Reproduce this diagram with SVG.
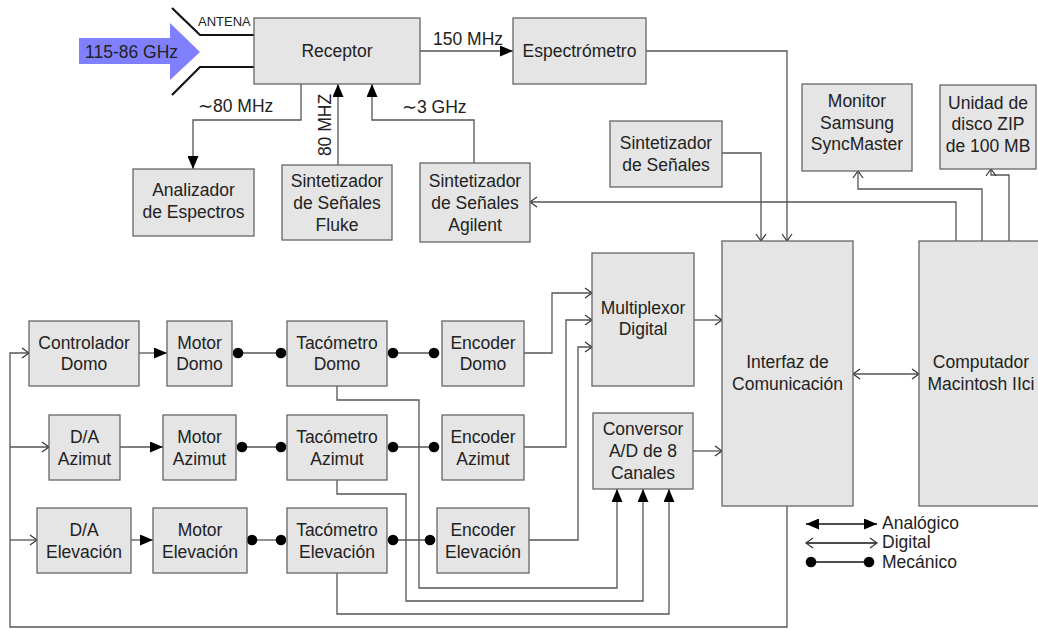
<svg xmlns="http://www.w3.org/2000/svg" width="1038" height="629" viewBox="0 0 1038 629">
<style>
.box{fill:#e5e5e5;stroke:#666;stroke-width:1.3}
.t{font-family:"Liberation Sans",Arial,Helvetica,sans-serif;font-size:17.5px;fill:#222;text-anchor:middle}
.l{font-family:"Liberation Sans",Arial,Helvetica,sans-serif;font-size:17.5px;fill:#222}
.ln{fill:none;stroke:#555;stroke-width:1.3}
.an{marker-end:url(#fa)}
.dg{marker-end:url(#oa)}
.mc{marker-start:url(#dot);marker-end:url(#dot)}
</style>
<defs>
<marker id="fa" markerUnits="userSpaceOnUse" viewBox="0 0 13 11" refX="13" refY="5.5" markerWidth="13" markerHeight="11" orient="auto-start-reverse"><path d="M0,0L13,5.5L0,11z" fill="#000"/></marker>
<marker id="oa" markerUnits="userSpaceOnUse" viewBox="-1 -1 10 12" refX="7" refY="5" markerWidth="10" markerHeight="12" orient="auto-start-reverse"><path d="M0,0L7,5L0,10" fill="none" stroke="#333" stroke-width="1.2"/></marker>
<marker id="dot" markerUnits="userSpaceOnUse" viewBox="0 0 12 12" refX="6" refY="6" markerWidth="12" markerHeight="12"><circle cx="6" cy="6" r="5.3" fill="#000"/></marker>
</defs>

<g id="antenna">
<polygon points="79,38 170,38 170,23 200,52 170,80 170,64 79,64" fill="#8080ff"/>
<text class="l" x="85" y="58">115-86 GHz</text>
<path d="M172,8L200,35H254M254,67H200L172,95" fill="none" stroke="#111" stroke-width="2.2"/>
<text x="198" y="26" style="font-family:'Liberation Sans',Arial,sans-serif;font-size:13px;fill:#222">ANTENA</text>
</g>

<g id="connectors">
<path class="ln an" d="M420,51H513"/>
<path class="ln an" d="M301,84V120H193V169"/>
<path class="ln an" d="M338,165V84"/>
<path class="ln an" d="M474,163V120H372V84"/>
<path class="ln dg" d="M646,51H787V241"/>
<path class="ln dg" d="M722,153H761V241"/>
<path class="ln dg" d="M982,241V189H858V171"/>
<path class="ln dg" d="M1009,241V175H991V169"/>
<path class="ln dg" d="M956,241V202H530"/>
<path class="ln dg" d="M853,374H919" style="marker-start:url(#oa)"/>
<path class="ln dg" d="M694,320H722"/>
<path class="ln dg" d="M693,451H722"/>
<path class="ln dg" d="M524,353H552V293H592"/>
<path class="ln dg" d="M524,447H566V320H592"/>
<path class="ln dg" d="M529,540H578V347H592"/>
<path class="ln an" d="M337,386V400H419V588H617V489"/>
<path class="ln an" d="M337,480V494H406V601H643V489"/>
<path class="ln an" d="M337,573V614H669V489"/>
<path class="ln dg" d="M787,506V627H10V353H29"/>
<path class="ln dg" d="M10,447H49"/>
<path class="ln dg" d="M10,540H37"/>
<path class="ln an" d="M139,353H167"/>
<path class="ln an" d="M120,447H163"/>
<path class="ln an" d="M131,540H153"/>
<path class="ln mc" d="M238,353H281"/>
<path class="ln mc" d="M393,353H434"/>
<path class="ln mc" d="M242,447H281"/>
<path class="ln mc" d="M393,447H434"/>
<path class="ln mc" d="M252,540H281"/>
<path class="ln mc" d="M393,540H430"/>
</g>

<g id="labels">
<text class="l" x="433" y="45">150 MHz</text>
<text class="l" x="198" y="112">∼80 MHz</text>
<text class="l" x="402" y="113">∼3 GHz</text>
<text class="t" transform="translate(331,125) rotate(-90)">80 MHZ</text>
</g>

<g id="receptor"><rect class="box" x="254" y="18" width="166" height="66"/><text class="t" x="337" y="57">Receptor</text></g>
<g id="espectrometro"><rect class="box" x="513" y="18" width="133" height="66"/><text class="t" x="579.5" y="57">Espectrómetro</text></g>
<g id="analizador"><rect class="box" x="133" y="169" width="121" height="67"/><text class="t" x="193.5" y="196">Analizador</text><text class="t" x="193.5" y="218">de Espectros</text></g>
<g id="fluke"><rect class="box" x="282" y="165" width="110" height="75"/><text class="t" x="337" y="187">Sintetizador</text><text class="t" x="337" y="209">de Señales</text><text class="t" x="337" y="231">Fluke</text></g>
<g id="agilent"><rect class="box" x="420" y="163" width="110" height="79"/><text class="t" x="475" y="187">Sintetizador</text><text class="t" x="475" y="209">de Señales</text><text class="t" x="475" y="231">Agilent</text></g>
<g id="sintetizador"><rect class="box" x="610" y="121" width="112" height="66"/><text class="t" x="666" y="149">Sintetizador</text><text class="t" x="666" y="171">de Señales</text></g>
<g id="monitor"><rect class="box" x="802" y="84" width="110" height="87"/><text class="t" x="857" y="107">Monitor</text><text class="t" x="857" y="129">Samsung</text><text class="t" x="857" y="150">SyncMaster</text></g>
<g id="zip"><rect class="box" x="940" y="85" width="96" height="84"/><text class="t" x="988" y="109">Unidad de</text><text class="t" x="988" y="130">disco ZIP</text><text class="t" x="988" y="152">de 100 MB</text></g>
<g id="interfaz"><rect class="box" x="722" y="241" width="131" height="265"/><text class="t" x="787.5" y="368">Interfaz de</text><text class="t" x="787.5" y="390">Comunicación</text></g>
<g id="computador"><rect class="box" x="919" y="241" width="124" height="265"/><text class="t" x="981" y="368">Computador</text><text class="t" x="981" y="390">Macintosh IIci</text></g>
<g id="multiplexor"><rect class="box" x="592" y="253" width="102" height="133"/><text class="t" x="643" y="314">Multiplexor</text><text class="t" x="643" y="335">Digital</text></g>
<g id="conversor"><rect class="box" x="593" y="413" width="100" height="76"/><text class="t" x="643" y="435">Conversor</text><text class="t" x="643" y="457">A/D de 8</text><text class="t" x="643" y="479">Canales</text></g>

<g id="controlador-domo"><rect class="box" x="29" y="321" width="110" height="65"/><text class="t" x="84" y="349">Controlador</text><text class="t" x="84" y="370">Domo</text></g>
<g id="motor-domo"><rect class="box" x="167" y="321" width="65" height="65"/><text class="t" x="199.5" y="349">Motor</text><text class="t" x="199.5" y="370">Domo</text></g>
<g id="tacometro-domo"><rect class="box" x="287" y="321" width="100" height="65"/><text class="t" x="337" y="349">Tacómetro</text><text class="t" x="337" y="370">Domo</text></g>
<g id="encoder-domo"><rect class="box" x="442" y="321" width="82" height="65"/><text class="t" x="483" y="349">Encoder</text><text class="t" x="483" y="370">Domo</text></g>

<g id="da-azimut"><rect class="box" x="49" y="415" width="71" height="65"/><text class="t" x="84.5" y="443">D/A</text><text class="t" x="84.5" y="465">Azimut</text></g>
<g id="motor-azimut"><rect class="box" x="163" y="415" width="73" height="65"/><text class="t" x="199.5" y="443">Motor</text><text class="t" x="199.5" y="465">Azimut</text></g>
<g id="tacometro-azimut"><rect class="box" x="287" y="415" width="100" height="65"/><text class="t" x="337" y="443">Tacómetro</text><text class="t" x="337" y="465">Azimut</text></g>
<g id="encoder-azimut"><rect class="box" x="442" y="415" width="82" height="65"/><text class="t" x="483" y="443">Encoder</text><text class="t" x="483" y="465">Azimut</text></g>

<g id="da-elevacion"><rect class="box" x="37" y="508" width="94" height="65"/><text class="t" x="84" y="536">D/A</text><text class="t" x="84" y="558">Elevación</text></g>
<g id="motor-elevacion"><rect class="box" x="153" y="508" width="94" height="65"/><text class="t" x="200" y="536">Motor</text><text class="t" x="200" y="558">Elevación</text></g>
<g id="tacometro-elevacion"><rect class="box" x="287" y="508" width="100" height="65"/><text class="t" x="337" y="536">Tacómetro</text><text class="t" x="337" y="558">Elevación</text></g>
<g id="encoder-elevacion"><rect class="box" x="437" y="508" width="92" height="65"/><text class="t" x="483" y="536">Encoder</text><text class="t" x="483" y="558">Elevación</text></g>

<g id="legend">
<path class="ln" d="M806,524H877" style="stroke:#111;marker-start:url(#fa);marker-end:url(#fa)"/>
<path class="ln" d="M806,543H877" style="stroke:#111;marker-start:url(#oa);marker-end:url(#oa)"/>
<path class="ln" d="M811,562H869" style="stroke:#111;marker-start:url(#dot);marker-end:url(#dot)"/>
<text class="l" x="882" y="529">Analógico</text>
<text class="l" x="882" y="548">Digital</text>
<text class="l" x="882" y="568">Mecánico</text>
</g>
</svg>
